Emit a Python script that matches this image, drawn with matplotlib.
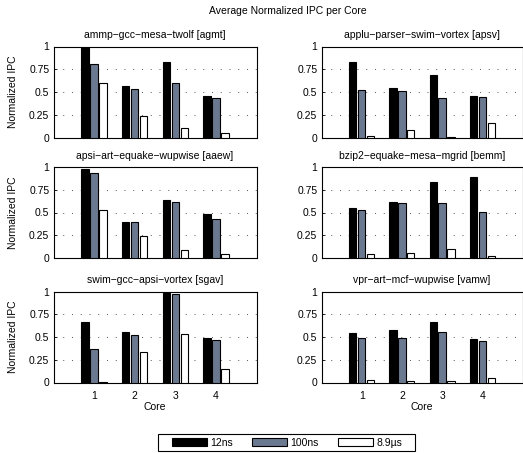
import matplotlib
matplotlib.use("Agg")
import matplotlib.pyplot as plt
from matplotlib.patches import Rectangle
import numpy as np

plt.rcParams['font.family'] = ['Liberation Sans', 'DejaVu Sans']
plt.rcParams['font.size'] = 7.5

cores = [1, 2, 3, 4]
series_names = ['12ns', '100ns', '8.9\u00b5s']
series_colors = ['#000000', '#6b7990', '#ffffff']

titles = [
    'ammp\u2212gcc\u2212mesa\u2212twolf [agmt]',
    'applu\u2212parser\u2212swim\u2212vortex [apsv]',
    'apsi\u2212art\u2212equake\u2212wupwise [aaew]',
    'bzip2\u2212equake\u2212mesa\u2212mgrid [bemm]',
    'swim\u2212gcc\u2212apsi\u2212vortex [sgav]',
    'vpr\u2212art\u2212mcf\u2212wupwise [vamw]',
]

# per workload: rows = 12ns, 100ns, 8.9us ; columns = cores 1..4
agmt = [[0.99, 0.57, 0.83, 0.46],
        [0.81, 0.53, 0.60, 0.43],
        [0.60, 0.24, 0.10, 0.05]]
apsv = [[0.83, 0.54, 0.69, 0.46],
        [0.52, 0.51, 0.43, 0.45],
        [0.02, 0.08, 0.01, 0.16]]
aaew = [[0.98, 0.40, 0.64, 0.48],
        [0.93, 0.40, 0.61, 0.43],
        [0.53, 0.24, 0.09, 0.04]]
bemm = [[0.55, 0.61, 0.83, 0.89],
        [0.53, 0.60, 0.60, 0.51],
        [0.04, 0.06, 0.10, 0.02]]
sgav = [[0.66, 0.55, 0.98, 0.49],
        [0.37, 0.52, 0.97, 0.47],
        [0.01, 0.33, 0.53, 0.15]]
vamw = [[0.54, 0.58, 0.66, 0.48],
        [0.49, 0.49, 0.55, 0.46],
        [0.03, 0.02, 0.02, 0.045]]
workloads = [agmt, apsv, aaew, bemm, sgav, vamw]

yticks = [0, 0.25, 0.5, 0.75, 1]
ytick_labels = ['0', '0.25', '0.5', '0.75', '1']

W, H = 523, 453
fig = plt.figure(figsize=(W / 100, H / 100), dpi=100)

col_left = [53.5, 321.5]
col_width = [203, 201]
row_top = [46.5, 167, 291.5]
row_height = 91

offsets = [-0.222, 0.0, 0.222]
bar_w = 0.18

handles = []
for i, data in enumerate(workloads):
    r, c = divmod(i, 2)
    x0 = col_left[c] / W
    y0 = 1 - (row_top[r] + row_height) / H
    ax = fig.add_axes([x0, y0, col_width[c] / W, row_height / H])
    x = np.array(cores, dtype=float)
    for k in range(3):
        b = ax.bar(x + offsets[k], data[k], width=bar_w, color=series_colors[k],
                   edgecolor='black', linewidth=0.8, zorder=3)
        if i == 0:
            handles.append(b)
    ax.set_xlim(0, 5)
    ax.set_ylim(0, 1)
    ax.set_yticks(yticks)
    ax.set_yticklabels(ytick_labels)
    ax.set_xticks(cores)
    ax.yaxis.grid(True, linestyle=(0, (1, 8)), color='#555555', linewidth=0.7)
    ax.set_axisbelow(True)
    ax.tick_params(direction='in', length=2, width=0.6, labelsize=7.5)
    ax.tick_params(axis='y', pad=3)
    ax.tick_params(axis='x', pad=6)
    for s in ax.spines.values():
        s.set_linewidth(0.8)
    ax.set_title(titles[i], fontsize=7.5, pad=6)
    if r == 2:
        ax.set_xlabel('Core', labelpad=1)
    else:
        ax.set_xticklabels([])
    if c == 0:
        ax.set_ylabel('Normalized IPC', labelpad=8)

fig.text(288 / W, 1 - 11 / H, 'Average Normalized IPC per Core', ha='center', va='center',
         fontsize=7.5)

fig.legend(handles, series_names, loc='center', bbox_to_anchor=(287 / W, 1 - 442.5 / H),
           ncol=3, frameon=False, fontsize=7.5,
           handlelength=3.4, handleheight=0.85, handletextpad=0.3, columnspacing=1.8,
           borderpad=0.2, borderaxespad=0)

# legend frame, wider horizontally than vertically
fig.patches.append(Rectangle((158 / W, 1 - 451 / H), 257 / W, 17 / H,
                             transform=fig.transFigure, fill=False,
                             edgecolor='black', linewidth=0.8))

fig.savefig('out.png', dpi=100)
